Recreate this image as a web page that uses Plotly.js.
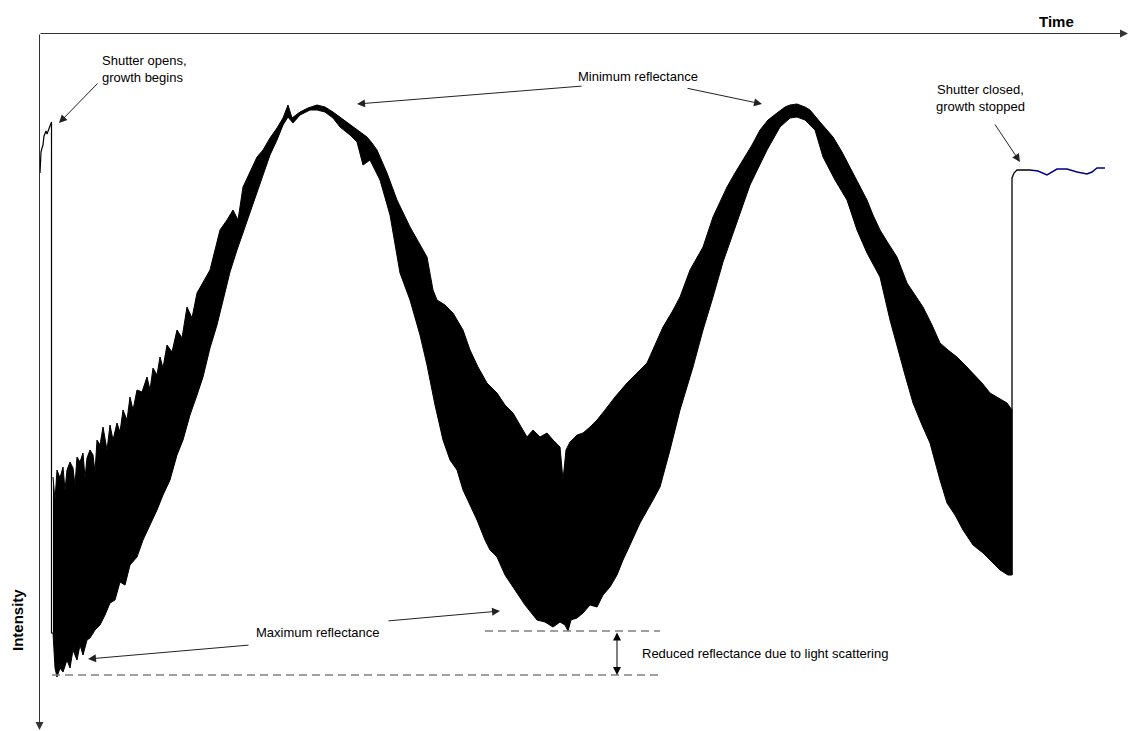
<!DOCTYPE html>
<html>
<head>
<meta charset="utf-8">
<script src="https://cdn.plot.ly/plotly-3.0.1.min.js"></script>
<style>html,body{margin:0;padding:0;background:#fff;}#chart{width:1130px;height:731px;}</style>
</head>
<body>
<div id="chart"></div>
<script>
// Values (time and intensity in arbitrary units; intensity grows downward)
const preTime = [40,41,42,43,44,46,47,48,49,50,51,51.5,51.5,53];
const preIntensity = [173,152,148,145,136,131,134,131,128,126,122,122,633,633];

const bandTopTime = [53,55,57,60,63,65,67,70,73,75,77,80,83,85,87,90,93,95,97,100,103,107,110,113,117,120,123,127,130,133,137,142,147,150,153,157,160,163,167,172,177,182,187,192,197,203,210,215,220,227,233,238,243,250,257,263,270,277,283,288,292,300,308,317,325,333,340,350,360,367,372,377,387,397,410,420,427,433,437,445,453,463,470,478,487,497,505,513,520,527,533,540,547,553,560,563,566,570,577,583,590,597,605,615,627,637,647,655,663,672,680,690,697,703,713,720,727,735,743,752,760,768,777,785,790,797,805,810,820,833,842,850,858,867,873,880,888,897,907,915,923,932,940,948,957,965,973,982,990,998,1007,1012];
const bandTopIntensity = [477,500,470,478,467,490,470,462,468,485,457,462,453,478,458,450,455,472,440,445,427,450,425,440,423,432,410,420,397,410,390,392,377,390,368,375,357,368,345,352,330,338,307,318,293,282,270,250,230,220,210,220,187,172,157,150,138,128,118,105,118,112,108,105,107,112,117,125,132,137,143,150,173,200,227,245,257,290,300,305,313,330,350,367,383,393,405,413,425,437,430,437,433,440,447,480,450,442,435,433,427,420,410,397,383,373,363,345,327,312,297,270,258,247,217,202,187,173,160,145,130,120,113,107,105,104,107,110,122,137,152,167,183,200,215,230,243,257,283,295,307,325,343,350,357,365,373,383,393,398,403,410];

const bandBottomTime = [53,55,57,60,63,67,70,73,77,80,83,87,90,95,100,105,110,115,120,125,130,137,143,150,157,163,170,177,183,190,197,203,210,217,223,230,237,243,250,257,263,270,277,283,288,293,300,310,317,325,333,340,350,357,363,370,380,390,400,410,420,427,435,443,450,457,463,470,477,485,490,497,505,513,525,537,545,553,560,565,568,571,577,583,590,597,603,610,617,623,630,640,647,653,660,670,680,693,703,713,723,737,750,767,780,790,797,805,815,823,835,847,857,867,880,890,897,905,913,922,930,940,947,955,963,973,983,992,1000,1008,1012];
const bandBottomIntensity = [633,668,677,668,672,660,668,650,660,645,655,640,638,630,625,615,603,600,582,585,565,557,540,525,510,495,480,455,440,415,395,377,348,325,300,272,250,233,213,193,175,155,140,125,117,123,115,110,110,112,118,127,135,142,165,160,180,215,273,300,335,365,405,440,460,470,490,505,520,540,550,557,575,587,605,620,622,627,622,625,631,620,618,613,605,607,595,587,575,560,545,523,510,500,487,450,410,367,330,297,262,223,185,150,127,118,117,120,130,157,180,200,230,253,277,320,347,375,403,425,443,480,503,515,530,545,553,562,570,575,575];

const postTime = [1012,1012,1014,1017,1030];
const postIntensity = [575,178,173,170,170];
const blueTime = [1030,1038,1047,1052,1057,1067,1077,1087,1092,1097,1105];
const blueIntensity = [170,171,175,172,169,169,172,174,172,168,168];

const bandX = bandTopTime.concat(bandBottomTime.slice().reverse());
const bandY = bandTopIntensity.concat(bandBottomIntensity.slice().reverse());

const F = '"Liberation Sans", Arial, sans-serif';
const traces = [
  {x: preTime, y: preIntensity, mode: 'lines', line: {color: '#000', width: 1.2}, hoverinfo: 'skip'},
  {x: bandX, y: bandY, mode: 'lines', fill: 'toself', fillcolor: '#000', line: {color: '#000', width: 1}, hoverinfo: 'skip'},
  {x: postTime, y: postIntensity, mode: 'lines', line: {color: '#000', width: 1.3}, hoverinfo: 'skip'},
  {x: blueTime, y: blueIntensity, mode: 'lines', line: {color: '#000080', width: 1.5}, hoverinfo: 'skip'}
];

function arrow(x, y, ax, ay, extra) {
  return Object.assign({x: x, y: y, ax: ax, ay: ay, xref: 'x', yref: 'y', axref: 'x', ayref: 'y',
    text: '', showarrow: true, arrowhead: 2, arrowsize: 1.6, arrowwidth: 1, arrowcolor: '#222', standoff: 0}, extra || {});
}
function label(text, x, y, extra) {
  return Object.assign({x: x, y: y, xref: 'x', yref: 'y', text: text, showarrow: false,
    font: {family: F, size: 13, color: '#000'}}, extra || {});
}

const annotations = [
  arrow(1128, 33.5, 39, 33.5, {arrowcolor: '#333'}),
  arrow(39.5, 730, 39.5, 33, {arrowcolor: '#333'}),
  arrow(59, 123, 99, 82),
  arrow(357, 104, 583, 86),
  arrow(762, 104, 686, 88),
  arrow(88, 659, 250, 645),
  arrow(500, 611, 387, 621),
  arrow(1020, 162, 994, 123),
  arrow(617, 675, 617, 631, {arrowside: 'end+start', arrowcolor: '#000'}),
  label('Shutter opens,<br>growth begins', 100, 69, {xanchor: 'left', align: 'left'}),
  label('Minimum reflectance', 638, 76),
  label('Maximum reflectance', 318, 632),
  label('Shutter closed,<br>growth stopped', 980, 98, {align: 'center'}),
  label('Reduced reflectance due to light scattering', 640, 653, {xanchor: 'left'}),
  label('<b>Time</b>', 1056, 21, {font: {family: F, size: 15, color: '#000'}}),
  label('<b>Intensity</b>', 17, 620, {textangle: -90, font: {family: F, size: 15, color: '#000'}})
];

const shapes = [
  {type: 'line', xref: 'x', yref: 'y', x0: 52, x1: 660, y0: 675, y1: 675, line: {color: '#808080', width: 1.5, dash: '8px,5px'}},
  {type: 'line', xref: 'x', yref: 'y', x0: 485, x1: 660, y0: 631, y1: 631, line: {color: '#808080', width: 1.5, dash: '8px,5px'}}
];

const layout = {
  width: 1130, height: 731, autosize: false,
  margin: {l: 0, r: 0, t: 0, b: 0, pad: 0},
  paper_bgcolor: '#fff', plot_bgcolor: '#fff',
  showlegend: false,
  xaxis: {range: [0, 1130], visible: false, fixedrange: true},
  yaxis: {range: [731, 0], visible: false, fixedrange: true},
  annotations: annotations,
  shapes: shapes
};

Plotly.newPlot('chart', traces, layout, {displayModeBar: false, staticPlot: true});
</script>
</body>
</html>
